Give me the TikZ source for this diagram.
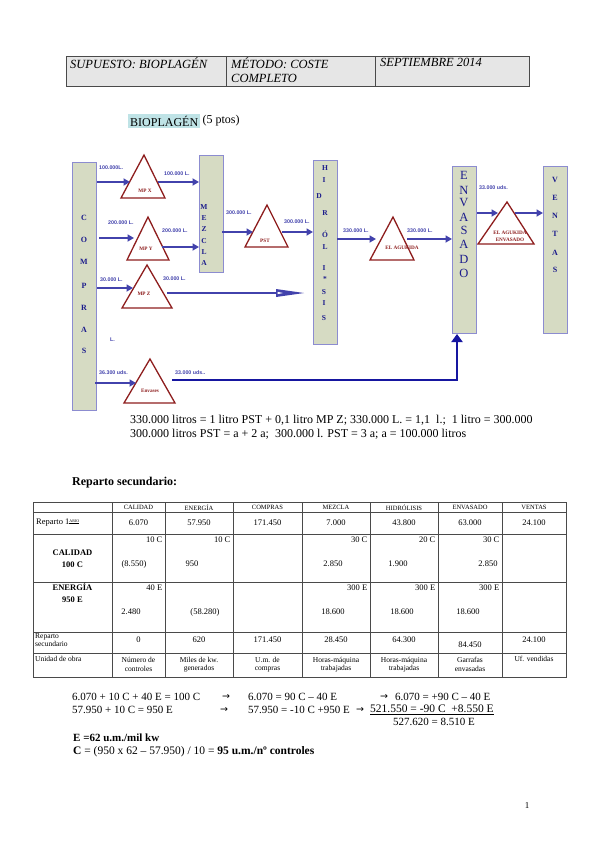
\documentclass[tikz,border=0pt]{standalone}
\usepackage{fontspec}
\setmainfont{Liberation Serif}
\newfontfamily\arialf{Liberation Sans}
\newfontfamily\djv{DejaVu Sans}
\usetikzlibrary{arrows.meta}
\newcommand\fsz[2]{\fontsize{#1}{#2}\selectfont}
\definecolor{boxfill}{HTML}{D6DBC3}
\definecolor{boxedge}{HTML}{8C8CD0}
\definecolor{arrblue}{HTML}{4242AC}
\definecolor{darkblue}{HTML}{1616A0}
\definecolor{letblue}{HTML}{1C1C8C}
\definecolor{trired}{HTML}{8E1E1E}
\definecolor{hdrgray}{HTML}{E6E6E6}
\definecolor{titlebg}{HTML}{BFE3E6}
\definecolor{tgray}{HTML}{4A4A4A}
\tikzset{
  box/.style={draw=boxedge, fill=boxfill, line width=1pt, inner sep=0, anchor=north west},
  tri/.style={draw=trired, fill=white, line width=1.3pt, line join=miter},
  flow/.style={arrblue, line width=2.2pt, -{Triangle[length=6.5pt,width=7pt]}},
  lbl/.style={font=\arialf\bfseries\fsz{5.3}{6}, text=arrblue, inner sep=0, anchor=west},
  tlbl/.style={font=\bfseries\fsz{5.2}{6}, text=trired, inner sep=0},
  letr/.style={font=\bfseries\fsz{8}{9}, text=letblue, inner sep=0},
  hdr/.style={font=\itshape\fsz{12.5}{14}, inner sep=0, anchor=north west, align=left},
  txt/.style={font=\fsz{11}{12}, inner sep=0, anchor=west},
  big/.style={font=\fsz{12}{13}, inner sep=0, anchor=west},
  tline/.style={draw=tgray, line width=0.9pt},
  th/.style={font=\fsz{6.5}{7.5}, inner sep=0},
  tc/.style={font=\fsz{8.5}{10}, inner sep=0},
  tcs/.style={font=\fsz{7.5}{8.5}, inner sep=0, align=center},
}
\begin{document}
\begin{tikzpicture}[x=1pt,y=-1pt]
\useasboundingbox[fill=white] (0,0) rectangle (599,848);

% ---------- header table ----------
\draw[fill=hdrgray, draw=tgray, line width=0.9pt] (66,56) rectangle (529,86);
\draw[tgray, line width=0.9pt] (226,56) -- (226,86) (375,56) -- (375,86);
\node[hdr] (h1) at (70,58) {SUPUESTO: BIOPLAGÉN};
\node[hdr] (h2) at (231,58) {MÉTODO: COSTE\\COMPLETO};
\node[hdr] (h3) at (380,58) {SEPTIEMBRE 2014};

% ---------- title ----------
\node[fill=titlebg, font=\fsz{12}{13}, inner sep=2pt, anchor=west] (ttl) at (128,121) {BIOPLAGÉN};
\node[font=\fsz{12}{13}, inner sep=0, anchor=west] (pts) at (ttl.east) {\,(5 ptos)};

% ---------- boxes ----------
\node[box, minimum width=24pt, minimum height=248pt] (compras) at (72,162) {};
\node[box, minimum width=24pt, minimum height=117pt] (mezcla) at (199,155) {};
\node[box, minimum width=24pt, minimum height=184pt] (hidro) at (313,160) {};
\node[box, minimum width=24pt, minimum height=167pt] (envas) at (452,166) {};
\node[box, minimum width=24pt, minimum height=167pt] (ventas) at (543,166) {};

% letters
\foreach \l/\y [count=\i] in {C/218,O/240,M/262,P/286,R/308,A/330,S/351}
  \node[letr] (lc\i) at (84,\y) {\l};
\foreach \l/\y [count=\i] in {M/207,E/218,Z/229,C/241,L/252,A/263}
  \node[letr, font=\bfseries\fsz{7.5}{8}] (lm\i) at (204,\y) {\l};
\foreach \l/\x/\y [count=\i] in {H/325/168,I/324/180,D/319/196,R/325/213,Ó/325/234,L/325/247,I/324/268,*/325/279,S/324/292,I/324/303,S/324/318}
  \node[letr, font=\bfseries\fsz{7.5}{8}] (lh\i) at (\x,\y) {\l};
\foreach \l/\y [count=\i] in {E/175,N/190,V/203,A/217,S/230,A/244,D/259,O/273}
  \node[letr, font=\fsz{12.5}{13}] (le\i) at (464,\y) {\l};
\foreach \l/\y [count=\i] in {V/180,E/198,N/216,T/234,A/253,S/270}
  \node[letr] (lv\i) at (555,\y) {\l};

% ---------- triangles ----------
\draw[tri] (121,198) -- (144,155) -- (165,198) -- cycle;
\node[tlbl] (mpx) at (145,191) {MP X};
\draw[tri] (127,260) -- (148,217) -- (169,260) -- cycle;
\node[tlbl] (mpy) at (146,249) {MP Y};
\draw[tri] (122,308) -- (147,265) -- (172,308) -- cycle;
\node[tlbl] (mpz) at (144,294) {MP Z};
\draw[tri] (124,403) -- (150,359) -- (175,403) -- cycle;
\node[tlbl] (env) at (150,391) {Envases};
\draw[tri] (245,247) -- (267,205) -- (288,247) -- cycle;
\node[tlbl] (pst) at (265,241) {PST};
\draw[tri] (370,260) -- (393,217) -- (414,260) -- cycle;
\node[tlbl] (ag1) at (402,248) {EL AGUKIDA};
\draw[tri] (478,244) -- (507,202) -- (534,244) -- cycle;
\node[tlbl, align=center, font=\bfseries\fsz{5.2}{7}] (ag2) at (510,236) {EL AGUKIDA\\ENVASADO};

% ---------- arrow end points ----------
\coordinate (e1) at (130,182);
\coordinate (s2) at (158,182);
\coordinate (s3) at (99,238);
\coordinate (e3) at (134,238);
\coordinate (s4) at (162,247);
\coordinate (e5) at (133,288);
\coordinate (s6) at (167,293);
\coordinate (e6) at (277,293);
\coordinate (s7) at (222,232);
\coordinate (e7) at (253,232);
\coordinate (s8) at (282,232);
\coordinate (s9) at (337,239);
\coordinate (e9) at (376,239);
\coordinate (s10) at (407,239);
\coordinate (e11) at (498,213);
\coordinate (s12) at (515,213);
\coordinate (s13) at (95,383);
\coordinate (e13) at (136,383);
\coordinate (s14) at (172,380);
\coordinate (k14) at (457,380);

% ---------- arrows ----------
\draw[flow] (compras.east |- e1) -- (e1);
\draw[flow] (s2) -- (mezcla.west |- s2);
\draw[flow] (s3) -- (e3);
\draw[flow] (s4) -- (mezcla.west |- s4);
\draw[flow] (compras.east |- e5) -- (e5);
\draw[arrblue, line width=2.2pt] (s6) -- (e6);
\fill[arrblue] (276,289) -- (304,293) -- (276,297) -- cycle;
\fill[white] (277.5,291.8) -- (283,293) -- (277.5,294.2) -- cycle;
\draw[flow] (s7) -- (e7);
\draw[flow] (s8) -- (hidro.west |- s8);
\draw[flow] (s9) -- (e9);
\draw[flow] (s10) -- (envas.west |- s10);
\draw[flow] (envas.east |- e11) -- (e11);
\draw[flow] (s12) -- (ventas.west |- s12);
\draw[flow] (s13) -- (e13);
\draw[darkblue, line width=2.6pt, -{Triangle[length=8pt,width=11pt]}] (s14) -- (k14) -- (envas.south -| k14);

% arrow labels
\node[lbl] (l1) at (99,168) {100.000L.};
\node[lbl] (l2) at (164,174) {100.000 L.};
\node[lbl] (l3) at (108,223) {200.000 L.};
\node[lbl] (l4) at (162,231) {200.000 L.};
\node[lbl] (l5) at (100,280) {30.000 L.};
\node[lbl] (l6) at (163,279) {30.000 L.};
\node[lbl] (l7) at (226,213) {300.000 L.};
\node[lbl] (l8) at (284,222) {300.000 L.};
\node[lbl] (l9) at (343,231) {330.000 L.};
\node[lbl] (l10) at (407,231) {330.000 L.};
\node[lbl] (l11) at (479,188) {33.000 uds.};
\node[lbl] (l12) at (99,373) {36.300 uds.};
\node[lbl] (l13) at (175,373) {33.000 uds..};
\node[lbl] (l14) at (110,340) {L.};

% ---------- equations ----------
\node[big] (q1) at (130,420) {330.000 litros = 1 litro PST + 0,1 litro MP Z; 330.000 L. = 1,1~~l.;~~1 litro = 300.000};
\node[big] (q2) at (130,434) {300.000 litros PST = a + 2 a;~~300.000 l. PST = 3 a; a = 100.000 litros};

\node[big, font=\bfseries\fsz{12}{13}] (rs) at (72,483) {Reparto secundario:};

% ---------- table ----------
\draw[tline] (33,502) rectangle (566,677);
\foreach \y in {512,534,582,632,653} \draw[tline] (33,\y) -- (566,\y);
\foreach \x in {112,165,233,302,370,438,502} \draw[tline] (\x,502) -- (\x,677);

\foreach \t/\x [count=\i] in {CALIDAD/138.5,ENERGÍA/199,COMPRAS/267.5,MEZCLA/336,HIDRÓLISIS/404,ENVASADO/470,VENTAS/534}
  \node[th] (th\i) at (\x,507.5) {\t};

\node[tc, anchor=west] (r1) at (36,523) {Reparto 1\textsuperscript{\fsz{4}{4}\underline{ARIO}}};
\foreach \t/\x [count=\i] in {6.070/138.5,57.950/199,171.450/267.5,7.000/336,43.800/404,63.000/470,24.100/534}
  \node[tc] (v1\i) at (\x,523) {\t};

\node[tc, font=\bfseries\fsz{8.5}{12.5}, align=center] (rc) at (72.5,558.5) {CALIDAD\\100 C};
\node[tc, anchor=east] (c1a) at (162.5,540) {10 C};
\node[tc] (c1b) at (134,564) {(8.550)};
\node[tc, anchor=east] (c2a) at (230.5,540) {10 C};
\node[tc] (c2b) at (192,564) {950};
\node[tc, anchor=east] (c4a) at (367.5,540) {30 C};
\node[tc] (c4b) at (333,564) {2.850};
\node[tc, anchor=east] (c5a) at (435.5,540) {20 C};
\node[tc] (c5b) at (398,564) {1.900};
\node[tc, anchor=east] (c6a) at (499.5,540) {30 C};
\node[tc] (c6b) at (488,564) {2.850};

\node[tc, font=\bfseries\fsz{8.5}{12}, align=center] (re) at (72.5,593) {ENERGÍA\\950 E};
\node[tc, anchor=east] (e1a) at (162.5,588) {40 E};
\node[tc] (e1b) at (131,612) {2.480};
\node[tc] (e2b) at (205,612) {(58.280)};
\node[tc, anchor=east] (e4a) at (367.5,588) {300 E};
\node[tc] (e4b) at (333,612) {18.600};
\node[tc, anchor=east] (e5a) at (435.5,588) {300 E};
\node[tc] (e5b) at (402,612) {18.600};
\node[tc, anchor=east] (e6a) at (499.5,588) {300 E};
\node[tc] (e6b) at (468,612) {18.600};

\node[tcs, anchor=west, align=left] (rsec) at (35,640) {Reparto\\secundario};
\foreach \t/\x/\y [count=\i] in {0/138.5/640,620/199/640,171.450/267.5/640,28.450/336/640,64.300/404/640,84.450/470/645,24.100/534/640}
  \node[tc] (s5\i) at (\x,\y) {\t};

\node[tcs, anchor=west] (ru) at (35,659) {Unidad de obra};
\foreach \t/\x [count=\i] in {{Número de\\controles}/138.5,{Miles de kw.\\generados}/199,{U.m. de\\compras}/267.5,{Horas-máquina\\trabajadas}/336,{Horas-máquina\\trabajadas}/404,{Garrafas\\envasadas}/470}
  \node[tcs] (u\i) at (\x,664.5) {\t};
\node[tcs] (u7) at (534,659) {Uf. vendidas};

% ---------- bottom equations ----------
\node[txt] (b1a) at (72,697) {6.070 + 10 C + 40 E = 100 C};
\node[txt] (b1r) at (222,697) {\djv\fsz{9.5}{10}→};
\node[txt] (b1b) at (248,697) {6.070 = 90 C -- 40 E};
\node[txt] (b1s) at (380,697) {\djv\fsz{9.5}{10}→};
\node[txt] (b1c) at (395,697) {6.070 = +90 C -- 40 E};
\node[txt] (b2a) at (72,710) {57.950 + 10 C = 950 E};
\node[txt] (b2r) at (220,710) {\djv\fsz{9.5}{10}→};
\node[txt] (b2b) at (248,710) {57.950 = -10 C +950 E};
\node[txt] (b2s) at (356,710) {\djv\fsz{9.5}{10}→};
\node[txt, font=\fsz{11.5}{12}] (b2c) at (370,710) {\underline{521.550 = -90 C~~+8.550 E}};
\node[txt] (b3) at (393,722) {527.620 = 8.510 E};
\node[txt, font=\bfseries\fsz{11}{12}] (b4) at (73,738) {E =62 u.m./mil kw};
\node[txt, font=\fsz{11.5}{12}] (b5) at (73,752) {\textbf{C} = (950 x 62 -- 57.950) / 10 = \textbf{95 u.m./nº controles}};

\node[font=\fsz{9}{10}, inner sep=0] (pg) at (527,806) {1};
\end{tikzpicture}
\end{document}
